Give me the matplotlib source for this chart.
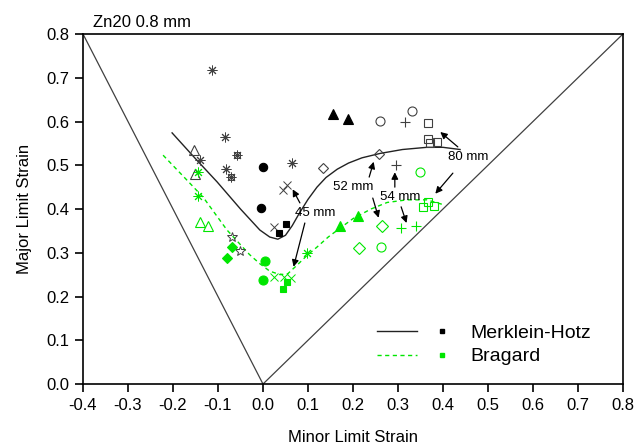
import matplotlib
matplotlib.use('Agg')
import matplotlib.pyplot as plt
from matplotlib.legend_handler import HandlerTuple

plt.rcParams['font.family'] = ['Liberation Sans', 'DejaVu Sans']

GRAY = '#404040'
GREEN = '#00e600'

# forming limit curves
mh_x = [-0.202, -0.15, -0.102, -0.05, -0.007, 0.015, 0.033, 0.05, 0.065, 0.08,
        0.10, 0.12, 0.14, 0.165, 0.19, 0.22, 0.26, 0.31, 0.364, 0.40, 0.438]
mh_y = [0.574, 0.515, 0.462, 0.40, 0.352, 0.336, 0.331, 0.340, 0.362, 0.389,
        0.422, 0.450, 0.472, 0.491, 0.505, 0.517, 0.527, 0.536, 0.541, 0.541, 0.536]

br_x = [-0.222, -0.169, -0.133, -0.08, -0.03, -0.007, 0.015, 0.038, 0.055, 0.076,
        0.098, 0.12, 0.145, 0.171, 0.2, 0.24, 0.276, 0.32, 0.364, 0.404]
br_y = [0.523, 0.466, 0.427, 0.352, 0.296, 0.275, 0.258, 0.25, 0.252, 0.272,
        0.294, 0.313, 0.336, 0.356, 0.378, 0.400, 0.415, 0.421, 0.421, 0.409]

# safe-zone V lines
v_x = [-0.4, 0.0, 0.8]
v_y = [0.8, 0.0, 0.8]

# Merklein-Hotz test points (black / gray)
mh_ast_x = [-0.113, -0.084, -0.082, -0.14, 0.064]
mh_ast_y = [0.718, 0.565, 0.491, 0.512, 0.505]
mh_boxast_x = [-0.058, -0.071]
mh_boxast_y = [0.523, 0.473]
mh_tri_open_x = [-0.153, -0.151]
mh_tri_open_y = [0.535, 0.48]
mh_circ_x = [0.0, -0.004]
mh_circ_y = [0.497, 0.403]
mh_cross_x = [0.044, 0.053, 0.024]
mh_cross_y = [0.444, 0.456, 0.359]
mh_sq_x = [0.036, 0.051]
mh_sq_y = [0.345, 0.366]
mh_dia_open_x = [0.133, 0.258]
mh_dia_open_y = [0.494, 0.526]
mh_tri_x = [0.156, 0.189]
mh_tri_y = [0.617, 0.605]
mh_circ_open_x = [0.26, 0.331]
mh_circ_open_y = [0.601, 0.624]
mh_plus_x = [0.316, 0.295]
mh_plus_y = [0.599, 0.50]
mh_sq_open_x = [0.367, 0.367, 0.371, 0.386]
mh_sq_open_y = [0.596, 0.56, 0.551, 0.553]
mh_star_x = [-0.069, -0.051]
mh_star_y = [0.336, 0.304]

# Bragard test points (green)
br_ast_x = [-0.144, -0.144, 0.098]
br_ast_y = [0.485, 0.43, 0.299]
br_tri_open_x = [-0.14, -0.122]
br_tri_open_y = [0.37, 0.361]
br_dia_x = [-0.069, -0.08]
br_dia_y = [0.313, 0.288]
br_circ_x = [0.004, 0.0]
br_circ_y = [0.281, 0.238]
br_cross_x = [0.024, 0.047, 0.062]
br_cross_y = [0.245, 0.245, 0.242]
br_sq_x = [0.053, 0.044]
br_sq_y = [0.233, 0.217]
br_tri_x = [0.171, 0.211]
br_tri_y = [0.361, 0.384]
br_dia_open_x = [0.264, 0.213]
br_dia_open_y = [0.361, 0.311]
br_circ_open_x = [0.262, 0.349]
br_circ_open_y = [0.313, 0.485]
br_plus_x = [0.307, 0.34]
br_plus_y = [0.356, 0.361]
br_sq_open_x = [0.356, 0.367, 0.38]
br_sq_open_y = [0.405, 0.416, 0.407]

# blank widths with arrows: (label, text pos, [(tail, head), ...])
notes = [
    ('45 mm', (0.117, 0.392), [((0.082, 0.414), (0.066, 0.445)), ((0.093, 0.368), (0.068, 0.268))]),
    ('52 mm', (0.20, 0.45), [((0.236, 0.473), (0.246, 0.508)), ((0.244, 0.425), (0.257, 0.380))]),
    ('54 mm', (0.306, 0.427), [((0.293, 0.45), (0.293, 0.484)), ((0.307, 0.405), (0.319, 0.368))]),
    ('80 mm', (0.455, 0.519), [((0.433, 0.542), (0.394, 0.576)), ((0.422, 0.482), (0.383, 0.435))]),
]


def pts(ax, x, y, marker, color, filled, ms=6, mew=0.8):
    ax.plot(x, y, linestyle='none', marker=marker, markersize=ms,
            markeredgewidth=mew, markeredgecolor=color,
            markerfacecolor=color if filled else 'none')


fig = plt.figure(figsize=(6.36, 4.45), dpi=100)
ax = fig.add_axes([0.1305, 0.137, 0.849, 0.7866])

ax.plot(v_x, v_y, color=GRAY, lw=0.9)
mh_line, = ax.plot(mh_x, mh_y, color='#222222', lw=1.0)
br_line, = ax.plot(br_x, br_y, color=GREEN, lw=1.0, dashes=(3, 2.5))

pts(ax, mh_ast_x, mh_ast_y, (8, 2, 0), GRAY, True, ms=7, mew=0.7)
pts(ax, mh_boxast_x, mh_boxast_y, (8, 2, 0), GRAY, True, ms=7, mew=0.7)
pts(ax, mh_boxast_x, mh_boxast_y, 's', GRAY, False, ms=5, mew=0.7)
pts(ax, mh_tri_open_x, mh_tri_open_y, '^', GRAY, False, ms=7)
pts(ax, mh_circ_x, mh_circ_y, 'o', 'black', True, ms=6)
pts(ax, mh_cross_x, mh_cross_y, 'x', GRAY, False, ms=6, mew=0.7)
pts(ax, mh_sq_x, mh_sq_y, 's', 'black', True, ms=5)
pts(ax, mh_dia_open_x, mh_dia_open_y, 'D', GRAY, False, ms=5.5)
pts(ax, mh_tri_x, mh_tri_y, '^', 'black', True, ms=6.5)
pts(ax, mh_circ_open_x, mh_circ_open_y, 'o', GRAY, False, ms=6.5)
pts(ax, mh_plus_x, mh_plus_y, '+', GRAY, False, ms=7)
pts(ax, mh_sq_open_x, mh_sq_open_y, 's', GRAY, False, ms=5.5)
pts(ax, mh_star_x, mh_star_y, '*', GRAY, False, ms=7.5, mew=0.7)

pts(ax, br_ast_x, br_ast_y, (8, 2, 0), GREEN, True, ms=7, mew=0.7)
pts(ax, br_tri_open_x, br_tri_open_y, '^', GREEN, False, ms=7)
pts(ax, br_dia_x, br_dia_y, 'D', GREEN, True, ms=5)
pts(ax, br_circ_x, br_circ_y, 'o', GREEN, True, ms=6.5)
pts(ax, br_cross_x, br_cross_y, 'x', GREEN, False, ms=6, mew=0.7)
pts(ax, br_sq_x, br_sq_y, 's', GREEN, True, ms=5)
pts(ax, br_tri_x, br_tri_y, '^', GREEN, True, ms=7)
pts(ax, br_dia_open_x, br_dia_open_y, 'D', GREEN, False, ms=6)
pts(ax, br_circ_open_x, br_circ_open_y, 'o', GREEN, False, ms=6.5)
pts(ax, br_plus_x, br_plus_y, '+', GREEN, False, ms=7)
pts(ax, br_sq_open_x, br_sq_open_y, 's', GREEN, False, ms=6)

for label, pos, arrows in notes:
    ax.text(pos[0], pos[1], label, fontsize=9.5, ha='center', va='center')
    for tail, head in arrows:
        ax.annotate('', xy=head, xytext=tail,
                    arrowprops=dict(arrowstyle='-|>', color='black', lw=0.9,
                                    mutation_scale=10, shrinkA=0, shrinkB=0))

ax.set_xlim(-0.4, 0.8)
ax.set_ylim(0.0, 0.8)
ax.set_xticks([-0.4, -0.3, -0.2, -0.1, 0.0, 0.1, 0.2, 0.3, 0.4, 0.5, 0.6, 0.7, 0.8])
ax.set_yticks([0.0, 0.1, 0.2, 0.3, 0.4, 0.5, 0.6, 0.7, 0.8])
ax.xaxis.set_major_formatter(matplotlib.ticker.FormatStrFormatter('%.1f'))
ax.yaxis.set_major_formatter(matplotlib.ticker.FormatStrFormatter('%.1f'))
ax.tick_params(direction='out', length=6, width=1.2, labelsize=12, pad=4)
for s in ax.spines.values():
    s.set_linewidth(1.2)

ax.set_xlabel('Minor Limit Strain', fontsize=12, labelpad=12)
ax.set_ylabel('Major Limit Strain', fontsize=12, labelpad=10)
ax.text(0.018, 1.012, 'Zn20 0.8 mm', transform=ax.transAxes, fontsize=12,
        ha='left', va='bottom')

mh_mark, = ax.plot([], [], 's', color='black', markersize=3.5)
br_mark, = ax.plot([], [], 's', color=GREEN, markersize=3.5)
ax.legend([(mh_line, mh_mark), (br_line, br_mark)], ['Merklein-Hotz', 'Bragard'],
          handler_map={tuple: HandlerTuple(ndivide=2, pad=0.3)},
          handlelength=4.4, handletextpad=0.4, fontsize=14, frameon=False,
          loc='lower right', bbox_to_anchor=(0.973, 0.003), labelspacing=0.3)

fig.savefig('out.png', dpi=100)
